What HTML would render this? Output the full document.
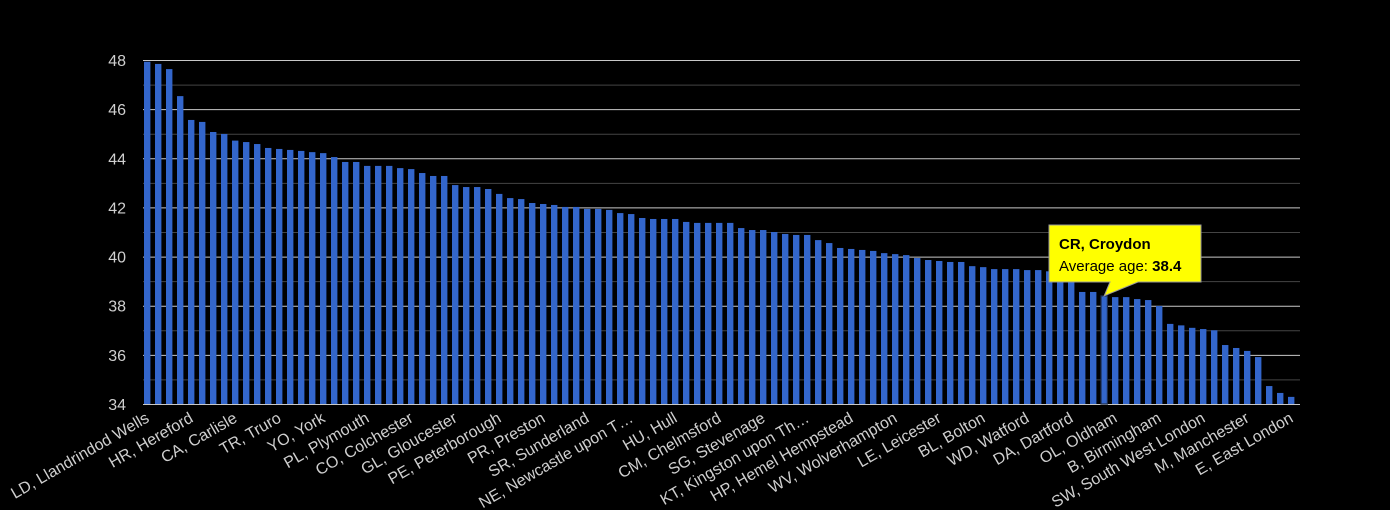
<!DOCTYPE html>
<html><head><meta charset="utf-8"><style>
html,body{margin:0;padding:0;background:#000;}
svg{display:block;font-family:"Liberation Sans",Arial,sans-serif;}
</style></head><body>
<svg id="chart" width="1390" height="510" viewBox="0 0 1390 510" xmlns="http://www.w3.org/2000/svg">
<rect width="1390" height="510" fill="#000"/>
<g id="grid"></g>
<g id="yaxis"></g>
<g id="bars"></g>
<g id="xaxis"></g>
<g id="tip"></g>
</svg>
<script>
const values = [47.93,47.84,47.63,46.53,45.56,45.48,45.07,44.99,44.72,44.66,44.58,44.42,44.38,44.34,44.30,44.25,44.21,44.05,43.85,43.85,43.69,43.69,43.69,43.6,43.56,43.4,43.28,43.28,42.91,42.83,42.83,42.75,42.55,42.38,42.34,42.18,42.14,42.10,42.02,42.02,41.94,41.94,41.90,41.77,41.73,41.57,41.53,41.53,41.53,41.41,41.37,41.37,41.37,41.37,41.16,41.08,41.08,41.0,40.92,40.88,40.88,40.67,40.55,40.35,40.31,40.27,40.23,40.14,40.10,40.06,39.94,39.86,39.82,39.78,39.78,39.61,39.57,39.49,39.49,39.49,39.45,39.45,39.4,39.3,39.2,38.56,38.56,38.4,38.35,38.35,38.27,38.23,37.99,37.26,37.2,37.1,37.05,37.0,36.4,36.28,36.16,35.91,34.73,34.45,34.29];
const tickLabels = ["LD, Llandrindod Wells","HR, Hereford","CA, Carlisle","TR, Truro","YO, York","PL, Plymouth","CO, Colchester","GL, Gloucester","PE, Peterborough","PR, Preston","SR, Sunderland","NE, Newcastle upon T\u2026","HU, Hull","CM, Chelmsford","SG, Stevenage","KT, Kingston upon Th\u2026","HP, Hemel Hempstead","WV, Wolverhampton","LE, Leicester","BL, Bolton","WD, Watford","DA, Dartford","OL, Oldham","B, Birmingham","SW, South West London","M, Manchester","E, East London"];
const yTicks = [34,36,38,40,42,44,46,48];
const highlightIndex = 87;
const highlightName = "CR, Croydon";
const highlightValue = "38.4";

const NS="http://www.w3.org/2000/svg";
const x0=144, pitch=11.0, bw=6.4, x1=1300;
const yMin=34, yMax=48, yTop=60, yBot=404;
function y(v){return yBot-(v-yMin)/(yMax-yMin)*(yBot-yTop);}
function xb(i){return x0+i*pitch;}
function mk(tag,attrs,parent){const e=document.createElementNS(NS,tag);for(const k in attrs)e.setAttribute(k,attrs[k]);parent.appendChild(e);return e;}

const grid=document.getElementById('grid'), ya=document.getElementById('yaxis');
for(let v=yMin; v<=yMax; v++){
  const major=(v%2===0);
  const l=mk('line',{x1:x0-1,x2:x1,y1:y(v)+0.5,y2:y(v)+0.5,stroke:major?'#c8c8c8':'#444','stroke-width':1},grid);
  
  
}
yTicks.forEach(t=>{
  const tx=mk('text',{x:126,y:y(t)+6,'text-anchor':'end','font-size':16,fill:'#cfcfcf'},ya);
  tx.textContent=t;
  
  
});
const bars=document.getElementById('bars');
values.forEach((v,i)=>{
  const r=mk('rect',{x:xb(i),y:y(v),width:bw,height:yBot-y(v),fill:'#3366cc'},bars);
  if(i===highlightIndex){r.setAttribute('stroke','#1a2a4a');r.setAttribute('stroke-width','1.2');}
  
  
});
const xa=document.getElementById('xaxis');
tickLabels.forEach((lab,k)=>{
  const i=k*4, cx=xb(i)+bw/2+3;
  const t=mk('text',{x:cx,y:421,'text-anchor':'end','font-size':16,fill:'#cfcfcf',transform:`rotate(-30 ${cx} 421)`},xa);
  t.textContent=lab;
  
  
});
const tip=document.getElementById('tip');
const bx=xb(highlightIndex)+bw/2, by=y(38.4);
const p=mk('path',{d:`M1049,225 H1201 V282 H1138 L${bx},${by} L1110,282 H1049 Z`,fill:'#ffff00',stroke:'#999','stroke-width':1},tip);


const t1=mk('text',{x:1059,y:249,'font-size':15,'font-weight':'bold',fill:'#000'},tip);
t1.textContent=highlightName;


const t2=mk('text',{x:1059,y:271,'font-size':15,fill:'#000'},tip);
t2.appendChild(document.createTextNode('Average age: '));
const b=mk('tspan',{'font-weight':'bold'},t2); b.textContent=highlightValue;


</script>
</body></html>
